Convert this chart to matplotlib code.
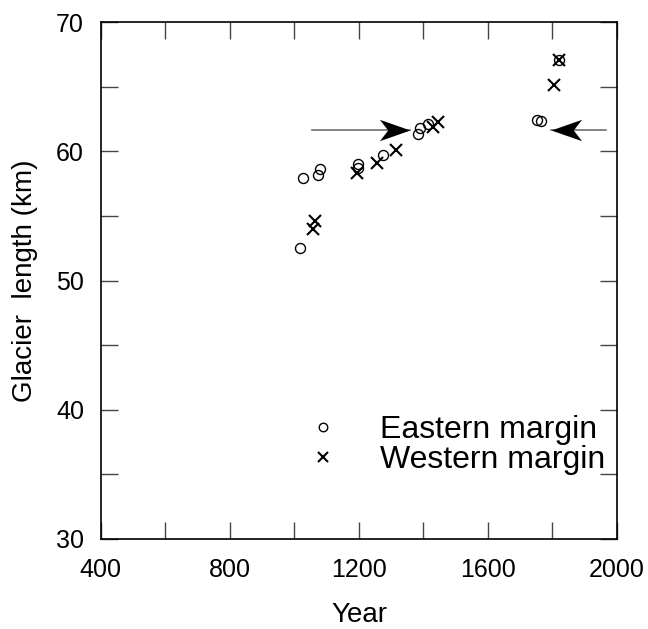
import matplotlib
matplotlib.use("Agg")
import matplotlib.pyplot as plt
from matplotlib.path import Path
from matplotlib.ticker import MultipleLocator

plt.rcParams['font.family'] = ['Liberation Sans', 'DejaVu Sans']

# Eastern margin (circles)
east_year = [1018, 1027, 1072, 1079, 1196, 1198, 1275, 1383, 1391, 1414, 1753, 1765, 1820]
east_len = [52.5, 57.9, 58.2, 58.6, 58.7, 59.0, 59.7, 61.3, 61.8, 62.1, 62.4, 62.35, 67.1]

# Western margin (crosses)
west_year = [1058, 1063, 1193, 1255, 1314, 1430, 1444, 1804, 1820]
west_len = [54.0, 54.6, 58.3, 59.1, 60.1, 61.9, 62.3, 65.1, 67.1]

# Arrows (start year, tip year, length)
arrow_y = 61.65
arrow_left = (1056, 1358)
arrow_right = (1967, 1796)

fig = plt.figure(figsize=(6.48, 6.29), dpi=100)
ax = fig.add_axes([0.1554, 0.1432, 0.7968, 0.8217])

ax.plot(east_year, east_len, linestyle='none', marker='o', markersize=7.2,
        markerfacecolor='none', markeredgecolor='black', markeredgewidth=1.0,
        label='Eastern margin')
ax.plot(west_year, west_len, linestyle='none', marker='x', markersize=8.5,
        color='black', markeredgewidth=1.5, label='Western margin')

# arrow shafts
for start, tip in (arrow_left, arrow_right):
    ax.plot([start, tip], [arrow_y, arrow_y], color='#707070', lw=1.2, zorder=2)

head_r = Path([(0, 0), (-1, 0.35), (-0.73, 0), (-1, -0.35), (0, 0)],
              [Path.MOVETO, Path.LINETO, Path.LINETO, Path.LINETO, Path.CLOSEPOLY])
head_l = Path([(0, 0), (1, 0.35), (0.73, 0), (1, -0.35), (0, 0)],
              [Path.MOVETO, Path.LINETO, Path.LINETO, Path.LINETO, Path.CLOSEPOLY])
ax.plot([arrow_left[1]], [arrow_y], marker=head_r, markersize=44, color='black',
        markeredgewidth=0, zorder=3)
ax.plot([arrow_right[1]], [arrow_y], marker=head_l, markersize=44, color='black',
        markeredgewidth=0, zorder=3)

ax.set_xlim(400, 2000)
ax.set_ylim(30, 70)
ax.xaxis.set_major_locator(MultipleLocator(400))
ax.xaxis.set_minor_locator(MultipleLocator(200))
ax.yaxis.set_major_locator(MultipleLocator(10))
ax.yaxis.set_minor_locator(MultipleLocator(5))
ax.tick_params(which='both', direction='in', length=12, width=1.0, color='#444444',
               top=True, right=True, labelsize=18)
ax.tick_params(axis='x', which='major', pad=14)
ax.tick_params(axis='y', which='major', pad=12)
for s in ax.spines.values():
    s.set_linewidth(1.2)

ax.set_xlabel('Year', fontsize=20, labelpad=14)
ax.set_ylabel('Glacier  length (km)', fontsize=20, labelpad=13)

leg = ax.legend(loc='upper left', bbox_to_anchor=(0.375, 0.264), frameon=False,
                fontsize=23, handlelength=1.0, handletextpad=1.28,
                labelspacing=0.0, markerscale=0.85, borderaxespad=0)

fig.savefig('out.png', dpi=100)
